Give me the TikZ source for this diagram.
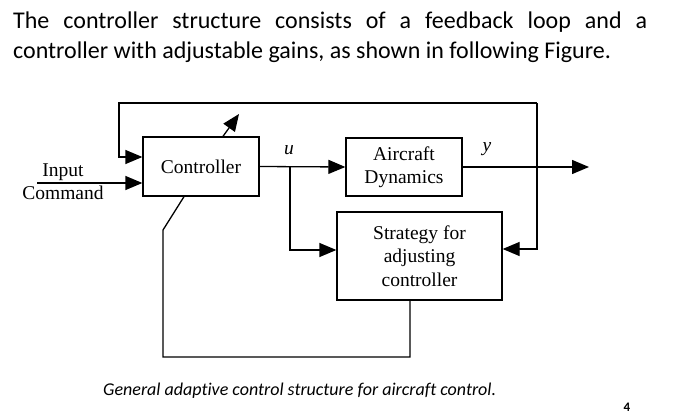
\documentclass[tikz,border=0pt]{standalone}
\usepackage{fontspec}
\setmainfont{Liberation Serif}
\newfontfamily\calibri[Ligatures=NoCommon]{Carlito}
\usetikzlibrary{arrows.meta}
\begin{document}
\begin{tikzpicture}[x=1pt,y=-1pt,
  blk/.style={draw,line width=1.3pt,inner sep=0pt,align=center,font=\fontsize{19.5}{23.5}\selectfont},
  wire/.style={line width=1.3pt},
  arr/.style={wire,-{Triangle[length=17pt,width=14pt]}},
  lbl/.style={inner sep=0pt,font=\fontsize{19.5}{23}\selectfont}]
\useasboundingbox[fill=white] (0,0) rectangle (685,419);
% top paragraph
\node[anchor=north west,inner sep=0pt,text width=634pt,align=justify,
  font=\calibri\fontsize{24}{30}\selectfont] (para) at (13,12)
  {\hyphenpenalty=10000\exhyphenpenalty=10000 The controller structure consists of a feedback loop and a\linebreak controller with adjustable gains, as shown in following Figure.};
% blocks
\node[blk,minimum width=116pt,minimum height=59pt] (ctrl) at (201,166.5) {Controller};
\node[blk,minimum width=116pt,minimum height=58pt] (air) at (404,167) {Aircraft\\Dynamics};
\node[blk,minimum width=165pt,minimum height=88pt] (strat) at (419.5,256) {Strategy for\\adjusting\\controller};
% coordinates
\coordinate (inL) at (37,183);
\coordinate (br) at (290,166.5);
\coordinate (out) at (589,167);
\coordinate (tr) at (537,103);
\coordinate (tl) at (119,103);
\coordinate (bl) at (163,357);
\coordinate (dg) at (163,230);
\coordinate (adj) at (239,114);
% labels
\node[lbl,anchor=base] (inp) at (63,177) {Input};
\node[lbl,anchor=base] (cmd) at (63,200) {Command};
\node[lbl,anchor=base] (ulab) at (289,155) {\itshape u};
\node[lbl,anchor=base] (ylab) at (487,152) {\itshape y};
% connectors
\draw[arr] (inL) -- (inL -| ctrl.west);
\draw[arr] (ctrl.east) -- (air.west);
\draw[arr] (br) |- ([yshift=6pt]strat.west);
\draw[arr] (air.east) -- (out);
\draw[arr] (tr) |- ([yshift=7pt]strat.east);
\draw[arr] (tr) -- (tl) |- ([yshift=9.5pt]ctrl.west);
\draw[wire] ([xshift=-9.5pt]strat.south) |- (bl) -- (dg) -- ([xshift=-17pt]ctrl.south);
\draw[arr] ([xshift=22pt]ctrl.north) -- (adj);
% caption
\node[anchor=base west,inner sep=0pt,font=\calibri\itshape\fontsize{18}{20}\selectfont] (cap) at (103,395)
  {General adaptive control structure for aircraft control.};
\node[anchor=base,inner sep=0pt,font=\calibri\bfseries\fontsize{13}{15}\selectfont] (pg) at (627,411) {4};
\end{tikzpicture}
\end{document}
